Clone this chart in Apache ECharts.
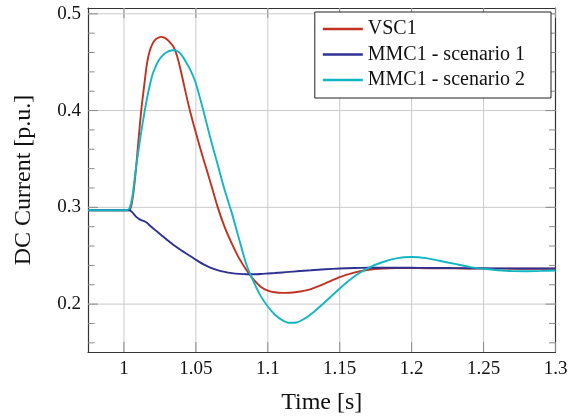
<!DOCTYPE html>
<html><head><meta charset="utf-8">
<script src="https://cdn.jsdelivr.net/npm/echarts@6/dist/echarts.min.js"></script>
<style>html,body{margin:0;padding:0;background:#fff}#c{width:574px;height:416px}</style>
</head><body><div id="c"></div>
<script>
const time = [0.975, 1.0, 1.002, 1.004, 1.006, 1.008, 1.01, 1.012, 1.014, 1.016, 1.018, 1.02, 1.022, 1.024, 1.026, 1.028, 1.03, 1.032, 1.034, 1.036, 1.038, 1.04, 1.043, 1.046, 1.05, 1.055, 1.06, 1.065, 1.07, 1.075, 1.08, 1.085, 1.09, 1.095, 1.1, 1.105, 1.11, 1.115, 1.12, 1.125, 1.13, 1.14, 1.15, 1.16, 1.17, 1.18, 1.19, 1.2, 1.21, 1.22, 1.23, 1.24, 1.25, 1.26, 1.27, 1.28, 1.29, 1.3];
const vsc1 = [0.297, 0.297, 0.297, 0.297, 0.309, 0.334, 0.368, 0.400, 0.425, 0.4486, 0.462, 0.4695, 0.4735, 0.4755, 0.4762, 0.4755, 0.4735, 0.4705, 0.467, 0.4605, 0.4505, 0.438, 0.418, 0.399, 0.377, 0.351, 0.3265, 0.301, 0.2795, 0.2625, 0.2475, 0.2355, 0.2255, 0.218, 0.214, 0.2122, 0.2116, 0.2118, 0.2125, 0.2137, 0.2155, 0.2215, 0.2278, 0.2325, 0.2355, 0.2368, 0.2372, 0.2372, 0.2371, 0.237, 0.2369, 0.2368, 0.2367, 0.2367, 0.2366, 0.2366, 0.2366, 0.2366];
const mmc1Scenario1 = [0.297, 0.297, 0.297, 0.297, 0.2945, 0.291, 0.2885, 0.2868, 0.2857, 0.2840, 0.2812, 0.2787, 0.2762, 0.2737, 0.2712, 0.2688, 0.2663, 0.2640, 0.2617, 0.2595, 0.2574, 0.2554, 0.2525, 0.2497, 0.2458, 0.2413, 0.2378, 0.2352, 0.2333, 0.2320, 0.2312, 0.2308, 0.2308, 0.2311, 0.2316, 0.2321, 0.2327, 0.2333, 0.2339, 0.2345, 0.2350, 0.2360, 0.2368, 0.2373, 0.2375, 0.2376, 0.2376, 0.2375, 0.2374, 0.2373, 0.2372, 0.2371, 0.237, 0.2369, 0.2369, 0.2368, 0.2368, 0.2368];
const mmc1Scenario2 = [0.297, 0.297, 0.297, 0.2995, 0.3125, 0.337, 0.358, 0.378, 0.396, 0.4125, 0.4265, 0.438, 0.4455, 0.4515, 0.4555, 0.4585, 0.4605, 0.4618, 0.4624, 0.4622, 0.4605, 0.4575, 0.4505, 0.4425, 0.428, 0.401, 0.372, 0.345, 0.318, 0.294, 0.2675, 0.2415, 0.2235, 0.2085, 0.1975, 0.189, 0.1835, 0.1807, 0.181, 0.1845, 0.1895, 0.2025, 0.2162, 0.2285, 0.2375, 0.2435, 0.2475, 0.2486, 0.2475, 0.2445, 0.2415, 0.2385, 0.2365, 0.235, 0.2341, 0.234, 0.2343, 0.2348];
const seriesNames = ['VSC1', 'MMC1 - scenario 1', 'MMC1 - scenario 2'];
const seriesValues = [vsc1, mmc1Scenario1, mmc1Scenario2];
const seriesColors = ['#bf3222', '#2e3192', '#12b6c2'];
const xTickValues = [1, 1.05, 1.1, 1.15, 1.2, 1.25, 1.3];
const yTickValues = [0.2, 0.3, 0.4, 0.5];
const yMinorTickValues = [0.16, 0.18, 0.22, 0.24, 0.26, 0.28, 0.32, 0.34, 0.36, 0.38, 0.42, 0.44, 0.46, 0.48];
const xLabel = 'Time [s]';
const yLabel = 'DC Current [p.u.]';

const FONT = 'Liberation Serif';
const chart = echarts.init(document.getElementById('c'), null, {renderer: 'canvas'});
const xRange = [0.975, 1.3];
const yRange = [0.1505, 0.506];
const frameLine = {show: true, onZero: false, lineStyle: {color: '#333', width: 1.2}};
const GRID_COLOR = '#cacaca', TICK_COLOR = '#8a8a8a';
const MAJOR = 10, MINOR = 6.5;

// decoration marks (grid lines + ticks) computed from tick values via the axes' scales
const decoData = []
  .concat(xTickValues.map(v => ['x', v]))
  .concat(yTickValues.map(v => ['y', v]))
  .concat(yMinorTickValues.map(v => ['ym', v]));

function renderDeco(params, api) {
  const kind = decoData[params.dataIndex][0];
  const v = decoData[params.dataIndex][1];
  const cs = params.coordSys;
  const L = cs.x, R = cs.x + cs.width, T = cs.y, B = cs.y + cs.height;
  const children = [];
  if (kind === 'x') {
    const px = api.coord([v, yRange[0]])[0];
    if (px < R - 1) children.push({type: 'line', shape: {x1: px, y1: T, x2: px, y2: B}, style: {stroke: GRID_COLOR, lineWidth: 1}});
    children.push({type: 'line', shape: {x1: px, y1: B, x2: px, y2: B - MAJOR}, style: {stroke: TICK_COLOR, lineWidth: 1}});
    children.push({type: 'line', shape: {x1: px, y1: T, x2: px, y2: T + MAJOR}, style: {stroke: TICK_COLOR, lineWidth: 1}});
  } else {
    const py = api.coord([xRange[0], v])[1];
    const len = kind === 'y' ? MAJOR : MINOR;
    if (kind === 'y') children.push({type: 'line', shape: {x1: L, y1: py, x2: R, y2: py}, style: {stroke: GRID_COLOR, lineWidth: 1}});
    children.push({type: 'line', shape: {x1: L, y1: py, x2: L + len, y2: py}, style: {stroke: TICK_COLOR, lineWidth: 1}});
    children.push({type: 'line', shape: {x1: R, y1: py, x2: R - len, y2: py}, style: {stroke: TICK_COLOR, lineWidth: 1}});
  }
  return {type: 'group', children: children};
}

chart.setOption({
  animation: false,
  backgroundColor: '#fff',
  grid: {left: 88, right: 18.5, top: 8, bottom: 64, containLabel: false, outerBoundsMode: 'none'},
  legend: {
    orient: 'vertical', right: 23, top: 12,
    backgroundColor: '#fff', borderColor: '#222', borderWidth: 1, borderRadius: 0,
    padding: [7, 26, 8, 8], itemGap: 5.5, itemWidth: 40, itemHeight: 2.5,
    icon: 'rect',
    textStyle: {fontFamily: FONT, fontSize: 20, color: '#111'},
    data: seriesNames
  },
  xAxis: [{
    type: 'value', min: xRange[0], max: xRange[1],
    name: xLabel, nameLocation: 'middle', nameGap: 39,
    nameTextStyle: {fontFamily: FONT, fontSize: 24, color: '#111'},
    axisLine: frameLine,
    axisTick: {show: false},
    axisLabel: {show: true, customValues: xTickValues, margin: 8, fontFamily: FONT, fontSize: 19, color: '#111'},
    splitLine: {show: false}
  }, {
    type: 'value', position: 'top', min: xRange[0], max: xRange[1],
    axisLine: frameLine, axisTick: {show: false},
    axisLabel: {show: false}, splitLine: {show: false}
  }],
  yAxis: [{
    type: 'value', min: yRange[0], max: yRange[1],
    name: yLabel, nameLocation: 'middle', nameGap: 52, nameRotate: 90,
    nameTextStyle: {fontFamily: FONT, fontSize: 24, color: '#111'},
    axisLine: frameLine,
    axisTick: {show: false},
    axisLabel: {show: true, customValues: yTickValues, margin: 7, fontFamily: FONT, fontSize: 19, color: '#111'},
    splitLine: {show: false}
  }, {
    type: 'value', position: 'right', min: yRange[0], max: yRange[1],
    axisLine: frameLine, axisTick: {show: false},
    axisLabel: {show: false}, splitLine: {show: false}
  }],
  series: [{
    type: 'custom', name: 'deco', silent: true, xAxisIndex: 0, yAxisIndex: 0,
    data: decoData.map((d, i) => [i]), renderItem: renderDeco, clip: false, z: 1,
    encode: {x: -1, y: -1}
  }].concat(seriesNames.map((name, k) => ({
    name: name, type: 'line', xAxisIndex: 0, yAxisIndex: 0,
    data: time.map((t, i) => [t, seriesValues[k][i]]),
    showSymbol: false, symbol: 'none', smooth: 0.25,
    lineStyle: {color: seriesColors[k], width: 1.9},
    itemStyle: {color: seriesColors[k]},
    z: 3 + k
  })))
});
</script></body></html>
